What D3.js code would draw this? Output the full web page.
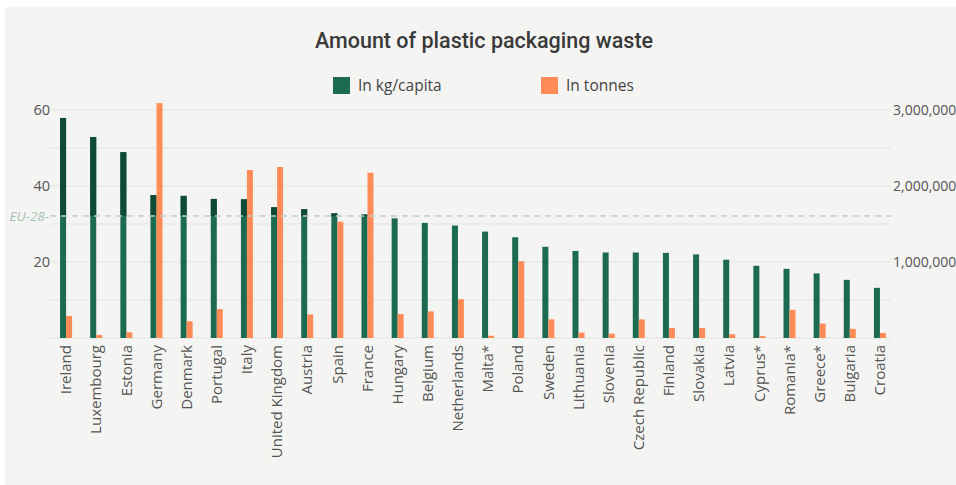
<!DOCTYPE html>
<html>
<head>
<meta charset="utf-8">
<script src="https://cdn.jsdelivr.net/npm/d3@7"></script>
<style>
html,body{margin:0;padding:0;background:#fff;}
svg{display:block;}
</style>
</head>
<body>
<svg id="chart" width="956" height="485"></svg>
<script>
const countries = ["Ireland","Luxembourg","Estonia","Germany","Denmark","Portugal","Italy","United Kingdom","Austria","Spain","France","Hungary","Belgium","Netherlands","Malta*","Poland","Sweden","Lithuania","Slovenia","Czech Republic","Finland","Slovakia","Latvia","Cyprus*","Romania*","Greece*","Bulgaria","Croatia"];
const kgPerCapita = [57.9,52.9,48.9,37.6,37.4,36.6,36.5,34.4,33.9,32.8,32.5,31.5,30.3,29.6,28.0,26.5,24.0,22.9,22.5,22.5,22.4,22.0,20.6,19.0,18.2,17.0,15.3,13.2];
const tonnes = [290000,40000,75000,3090000,220000,380000,2210000,2250000,310000,1530000,2175000,315000,350000,510000,30000,1010000,245000,70000,57000,245000,130000,130000,50000,25000,370000,190000,120000,66000];
const leftTicks = [20,40,60];
const leftGrid = [10,20,30,40,50,60];
const rightTicks = [1000000,2000000,3000000];
const euAverage = 32.1;
const seriesNames = ["In kg/capita","In tonnes"];

(function(){
const svg = d3.select("#chart");
const W = 956, H = 485;
const mLeft = 50, mRight = 891, mTop = 110, mBottom = 338;
const green = "#1c6b51", greenDark = "#0f4a36", orange = "#ff8c58";

svg.append("rect").attr("x",5).attr("y",7).attr("width",W-5).attr("height",H-7).attr("fill","#f4f4f2");

const x = d3.scaleBand().domain(countries).range([mLeft+1, mRight+4]).paddingInner(0).paddingOuter(0);
const yL = d3.scaleLinear().domain([0,60]).range([mBottom, mTop]);
const yR = d3.scaleLinear().domain([0,3000000]).range([mBottom, mTop]);

// grid
svg.append("g").selectAll("line").data([0].concat(leftGrid)).join("line")
  .attr("x1",mLeft).attr("x2",mRight).attr("y1",d=>yL(d)).attr("y2",d=>yL(d))
  .attr("stroke","#e3e3df").attr("stroke-width",1);

// left axis
const axL = svg.append("g").attr("transform",`translate(${mLeft},0)`)
  .call(d3.axisLeft(yL).tickValues(leftTicks).tickSize(0).tickPadding(0));
axL.select(".domain").remove();
axL.selectAll("text").attr("font-family","'Open Sans', sans-serif").attr("font-size",14.5).attr("fill","#555");

// right axis
const axR = svg.append("g").attr("transform",`translate(${mRight+2},0)`)
  .call(d3.axisRight(yR).tickValues(rightTicks).tickSize(0).tickPadding(0).tickFormat(d3.format(",")));
axR.select(".domain").remove();
axR.selectAll("text").attr("font-family","'Open Sans', sans-serif").attr("font-size",14).attr("fill","#555");

const bw = 6;
const cx = d => x(d) + x.bandwidth()/2;

// green bars
svg.append("g").selectAll("rect").data(countries).join("rect")
  .attr("x",d=>cx(d)-bw).attr("width",bw)
  .attr("y",(d,i)=>yL(kgPerCapita[i])).attr("height",(d,i)=>mBottom-yL(kgPerCapita[i]))
  .attr("fill",green);

// darker part above EU line
svg.append("clipPath").attr("id","above").append("rect")
  .attr("x",0).attr("y",0).attr("width",W).attr("height",yL(euAverage));
svg.append("g").attr("clip-path","url(#above)").selectAll("rect").data(countries).join("rect")
  .attr("x",d=>cx(d)-bw).attr("width",bw)
  .attr("y",(d,i)=>yL(kgPerCapita[i])).attr("height",(d,i)=>mBottom-yL(kgPerCapita[i]))
  .attr("fill",greenDark);

// orange bars
svg.append("g").selectAll("rect").data(countries).join("rect")
  .attr("x",d=>cx(d)).attr("width",bw)
  .attr("y",(d,i)=>yR(tonnes[i])).attr("height",(d,i)=>mBottom-yR(tonnes[i]))
  .attr("fill",orange);

// EU-28 line
svg.append("line").attr("x1",mLeft).attr("x2",mRight).attr("y1",yL(euAverage)).attr("y2",yL(euAverage))
  .attr("stroke","#c2ccc7").attr("stroke-width",1.3).attr("stroke-dasharray","6,5");
svg.append("text").attr("x",49).attr("y",yL(euAverage)).attr("dy","0.35em").attr("text-anchor","end")
  .attr("font-family","'Open Sans', sans-serif").attr("font-style","italic").attr("font-size",13.5)
  .attr("fill","#a6c2b6").text("EU-28-");

// x labels
const axX = svg.append("g").attr("transform",`translate(0,${mBottom})`)
  .call(d3.axisBottom(x).tickSize(0).tickPadding(0));
axX.select(".domain").remove();
axX.selectAll("text")
  .attr("font-family","'Open Sans', sans-serif").attr("font-size",15).attr("fill","#555")
  .attr("transform","rotate(-90)").attr("text-anchor","end")
  .attr("x",-7).attr("y",0).attr("dy","0.35em");

// title
svg.append("text").attr("x",484).attr("y",48).attr("text-anchor","middle")
  .attr("font-family","Roboto, sans-serif").attr("font-weight",500).attr("font-size",21.5)
  .attr("fill","#3a3a3a").text("Amount of plastic packaging waste");

// legend
const legend = [{name:seriesNames[0],color:green,x:333},{name:seriesNames[1],color:orange,x:541}];
const lg = svg.append("g").selectAll("g").data(legend).join("g").attr("transform",d=>`translate(${d.x},77)`);
lg.append("rect").attr("width",17).attr("height",17).attr("fill",d=>d.color);
lg.append("text").attr("x",25).attr("y",8.5).attr("dy","0.35em")
  .attr("font-family","'Open Sans', sans-serif").attr("font-size",15.5).attr("fill","#444").text(d=>d.name);
})();
</script>
</body>
</html>
